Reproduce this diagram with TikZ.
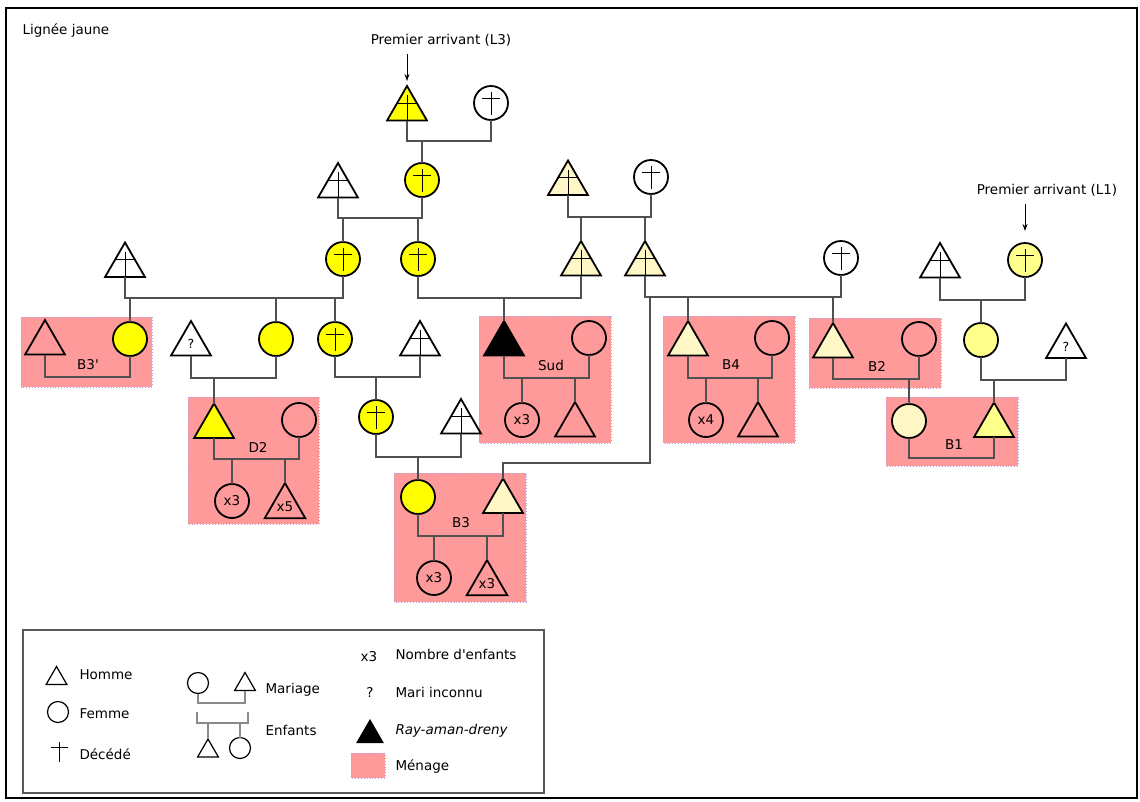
\documentclass[tikz,border=0pt]{standalone}
\usepackage{fontspec}
\setmainfont{DejaVu Sans}
\usetikzlibrary{shapes.geometric,calc,arrows.meta}
\definecolor{yel}{HTML}{FFFF00}
\definecolor{lyel}{HTML}{FFFF8C}
\definecolor{cream}{HTML}{FFF7C6}
\definecolor{menfill}{HTML}{FF9A9A}
\definecolor{menline}{HTML}{B4A0E0}
\definecolor{connc}{HTML}{505050}
\definecolor{legc}{HTML}{8A8A8A}
\begin{document}
\begin{tikzpicture}[x=1pt,y=-1pt,
  font=\fontsize{13.5}{16}\selectfont,
  person/.style={draw=black, line width=1.8pt, inner sep=0pt, outer sep=0pt},
  fem/.style={person, circle, minimum size=34pt},
  hom/.style={person, regular polygon, regular polygon sides=3, minimum size=46pt},
  lfem/.style={draw=black, line width=1.2pt, circle, inner sep=0pt, outer sep=0pt, minimum size=21pt},
  lhom/.style={draw=black, line width=1.2pt, regular polygon, regular polygon sides=3, inner sep=0pt, outer sep=0pt, minimum size=24pt},
  xc/.style={path picture={
     \draw[line width=0.9pt] ([yshift=11pt]path picture bounding box.center) -- ([yshift=-12pt]path picture bounding box.center);
     \draw[line width=0.9pt] ([xshift=-9pt,yshift=5pt]path picture bounding box.center) -- ([xshift=9pt,yshift=5pt]path picture bounding box.center);}},
  xt/.style={path picture={
     \draw[line width=0.9pt] ([yshift=-9pt]path picture bounding box.north) -- (path picture bounding box.south);
     \draw[line width=0.9pt] (path picture bounding box.west) -- (path picture bounding box.east);}},
  conn/.style={draw=connc, line width=1.4pt},
  lconn/.style={draw=legc, line width=1.1pt},
  menage/.style={fill=menfill, draw=menline, dotted, line width=0.9pt},
  arr/.style={-{Stealth[length=7pt,width=5pt]}, line width=0.9pt, draw=black},
  small/.style={font=\fontsize{13.5}{15}\selectfont},
  qm/.style={font=\fontsize{12.5}{14}\selectfont}
]
\useasboundingbox (0,0) rectangle (1140,801);
\draw[line width=2pt] (6,8) rectangle (1137,798);

% households
\fill[menage] (21,317) rectangle (152,387);
\fill[menage] (188,397) rectangle (319,524);
\fill[menage] (479,316) rectangle (611,443);
\fill[menage] (663,316) rectangle (795,443);
\fill[menage] (809,318) rectangle (941,388);
\fill[menage] (886,397) rectangle (1018,466);
\fill[menage] (394,473) rectangle (526,602);
\draw[menage, fill=none] (21,317) rectangle (152,387);
\draw[menage, fill=none] (188,397) rectangle (319,524);
\draw[menage, fill=none] (479,316) rectangle (611,443);
\draw[menage, fill=none] (663,316) rectangle (795,443);
\draw[menage, fill=none] (809,318) rectangle (941,388);
\draw[menage, fill=none] (886,397) rectangle (1018,466);
\draw[menage, fill=none] (394,473) rectangle (526,602);

% titles
\node[anchor=west] (title) at (19,31) {Lignée jaune};
\node (l3) at (441,40) {Premier arrivant (L3)};
\node (l1) at (1047,190) {Premier arrivant (L1)};

% row 0
\node[hom, fill=yel, xt] (t0) at (407,109) {};
\node[fem, xc] (c0) at (491,103) {};
% row 1
\node[hom, xt] (t1a) at (338,186) {};
\node[fem, fill=yel, xc] (c1b) at (422,180) {};
\node[hom, fill=cream, xt] (t1c) at (568,183.5) {};
\node[fem, xc] (c1d) at (651,177) {};
% row 2
\node[hom, xt] (t2a) at (125,265.5) {};
\node[fem, fill=yel, xc] (c2a) at (343,259) {};
\node[fem, fill=yel, xc] (c2b) at (418,259) {};
\node[hom, fill=cream, xt] (t2c) at (581,264) {};
\node[hom, fill=cream, xt] (t2d) at (645,264) {};
\node[fem, xc] (c2e) at (841,258) {};
\node[hom, xt] (t2f) at (940,266) {};
\node[fem, fill=lyel, xc] (c2g) at (1025,260) {};
% row 3
\node[hom] (t3a) at (45,343) {};
\node[fem, fill=yel] (c3a) at (130,339) {};
\node[hom, fill=white, qm] (t3q) at (191,344) {?};
\node[fem, fill=yel] (c3b) at (276,339) {};
\node[fem, fill=yel, xc] (c3c) at (335,339) {};
\node[hom, fill=white, xt] (t3d) at (420,344) {};
\node[hom, fill=black] (t3e) at (504,344) {};
\node[fem] (c3f) at (589,338) {};
\node[fem, small] (sudc) at (522,420) {x3};
\node[hom] (sudt) at (575,425) {};
\node[hom, fill=cream] (t3g) at (688,344) {};
\node[fem] (c3h) at (772,338) {};
\node[fem, small] (b4c) at (706,420) {x4};
\node[hom] (b4t) at (758,425) {};
\node[hom, fill=cream] (t3i) at (833,346) {};
\node[fem] (c3j) at (919,339) {};
\node[fem, fill=lyel] (c3k) at (981,340) {};
\node[hom, fill=white, qm] (t3l) at (1066,346.5) {?};
% row 4
\node[fem, fill=cream] (c4m) at (909,421) {};
\node[hom, fill=lyel] (t4n) at (994,425.5) {};
\node[hom, fill=yel] (t4a) at (214,426.5) {};
\node[fem] (c4b) at (299,420) {};
\node[fem, small] (d2c) at (232,501) {x3};
\node[hom, small] (d2t) at (285,506.5) {x5};
\node[fem, fill=yel, xc] (c4c) at (376,417) {};
\node[hom, fill=white, xt] (t4d) at (461,422) {};
% row 5
\node[fem, fill=yel] (c5a) at (418,497) {};
\node[hom, fill=cream] (t5b) at (503,501.5) {};
\node[fem, small] (b3c) at (434,578) {x3};
\node[hom, small] (b3t) at (487,583.5) {x3};

% household labels
\node (lb3p) at (88,365) {B3\textquotesingle};
\node (lsud) at (551,365) {Sud};
\node (lb4) at (731,365) {B4};
\node (lb2) at (877,366) {B2};
\node (lb1) at (954,445) {B1};
\node (ld2) at (258,447) {D2};
\node (lb3) at (461,523) {B3};

% arrows
\draw[arr] ([yshift=-4pt]l3.south -| t0.north) -- ([yshift=5pt]t0.north);
\draw[arr] ([yshift=-4pt]l1.south -| c2g.north) -- ([yshift=12pt]c2g.north);

% connectors
\draw[conn] (t0.south) -- (t0.south |- 0,141) -| (c0.south);
\draw[conn] (c1b.north) -- (c1b.north |- 0,141);

\draw[conn] (t1a.south) -- (t1a.south |- 0,218) -| (c1b.south);
\draw[conn] (c2a.north) -- (c2a.north |- 0,218);
\draw[conn] (c2b.north) -- (c2b.north |- 0,218);

\draw[conn] (t1c.south) -- (t1c.south |- 0,217) -| (c1d.south);
\draw[conn] (t2c.north) -- (t2c.north |- 0,217);
\draw[conn] (t2d.north) -- (t2d.north |- 0,217);

\draw[conn] (t2a.south) -- (t2a.south |- 0,298) -| (c2a.south);
\draw[conn] (c3a.north) -- (c3a.north |- 0,298);
\draw[conn] (c3b.north) -- (c3b.north |- 0,298);
\draw[conn] (c3c.north) -- (c3c.north |- 0,298);

\draw[conn] (c2b.south) -- (c2b.south |- 0,298) -| (t2c.south);
\draw[conn] (t3e.north) -- (t3e.north |- 0,298);

\draw[conn] (t2d.south) -- (t2d.south |- 0,297) -| (c2e.south);
\draw[conn] (t5b.north) -- (t5b.north |- 0,463) -| (650,297);
\draw[conn] (t3g.north) -- (t3g.north |- 0,297);
\draw[conn] (t3i.north) -- (t3i.north |- 0,297);

\draw[conn] (t2f.south) -- (t2f.south |- 0,300) -| (c2g.south);
\draw[conn] (c3k.north) -- (c3k.north |- 0,300);

\draw[conn] (t3a.south) -- (t3a.south |- 0,377) -| (c3a.south);

\draw[conn] (t3q.south) -- (t3q.south |- 0,378) -| (c3b.south);
\draw[conn] (t4a.north) -- (t4a.north |- 0,378);

\draw[conn] (c3c.south) -- (c3c.south |- 0,377) -| (t3d.south);
\draw[conn] (c4c.north) -- (c4c.north |- 0,377);

\draw[conn] (t3e.south) -- (t3e.south |- 0,378) -| (c3f.south);
\draw[conn] (sudc.north) -- (sudc.north |- 0,378);
\draw[conn] (sudt.north) -- (sudt.north |- 0,378);

\draw[conn] (t3g.south) -- (t3g.south |- 0,378) -| (c3h.south);
\draw[conn] (b4c.north) -- (b4c.north |- 0,378);
\draw[conn] (b4t.north) -- (b4t.north |- 0,378);

\draw[conn] (t3i.south) -- (t3i.south |- 0,379) -| (c3j.south);
\draw[conn] (c4m.north) -- (c4m.north |- 0,379);

\draw[conn] (c3k.south) -- (c3k.south |- 0,380) -| (t3l.south);
\draw[conn] (t4n.north) -- (t4n.north |- 0,380);

\draw[conn] (c4m.south) -- (c4m.south |- 0,458) -| (t4n.south);

\draw[conn] (t4a.south) -- (t4a.south |- 0,459) -| (c4b.south);
\draw[conn] (d2c.north) -- (d2c.north |- 0,459);
\draw[conn] (d2t.north) -- (d2t.north |- 0,459);

\draw[conn] (c4c.south) -- (c4c.south |- 0,457) -| (t4d.south);
\draw[conn] (c5a.north) -- (c5a.north |- 0,457);

\draw[conn] (c5a.south) -- (c5a.south |- 0,536) -| (t5b.south);
\draw[conn] (b3c.north) -- (b3c.north |- 0,536);
\draw[conn] (b3t.north) -- (b3t.north |- 0,536);

% legend
\draw[draw=black!65, line width=1.3pt] (23,630) rectangle (544,793);
\node[lhom] (lgh) at (56.5,678.5) {};
\node[anchor=west] (lghT) at (76,675) {Homme};
\node[lfem] (lgf) at (58,712) {};
\node[anchor=west] (lgfT) at (76,714) {Femme};
\draw[line width=1pt] (59,742) -- (59,762);
\draw[line width=1pt] (51,747) -- (68,747);
\node[anchor=west] (lgdT) at (76,754) {Décédé};

\node[lfem] (lmc) at (198,683) {};
\node[lhom] (lmt) at (245,684.5) {};
\draw[lconn] (lmc.south) -- (lmc.south |- 0,703) -| (lmt.south);
\node[anchor=west] (lmT) at (262,690) {Mariage};
\node[lhom] (lct) at (208,751) {};
\node[lfem] (lcc) at (240,748) {};
\draw[lconn] (197,712) -- (197,723) -- (248,723) -- (248,712);
\draw[lconn] (lct.north) -- (lct.north |- 0,723);
\draw[lconn] (lcc.north) -- (lcc.north |- 0,723);
\node[anchor=west] (lcT) at (262,730) {Enfants};

\node (lx3) at (369,657) {x3};
\node[anchor=west] (lx3T) at (392,654) {Nombre d\textquotesingle enfants};
\node (lq) at (370,692) {?};
\node[anchor=west] (lqT) at (392,692) {Mari inconnu};
\node[regular polygon, regular polygon sides=3, fill=black, draw=black, line width=1pt, inner sep=0pt, minimum size=30pt] (lrad) at (370,735) {};
\node[anchor=west, font=\fontsize{13.5}{16}\itshape] (lradT) at (392,731) {Ray-aman-dreny};
\fill[menage] (351,753) rectangle (385,778);
\draw[menage, fill=none] (351,753) rectangle (385,778);
\node[anchor=west] (lmenT) at (392,766) {Ménage};
\end{tikzpicture}
\end{document}
